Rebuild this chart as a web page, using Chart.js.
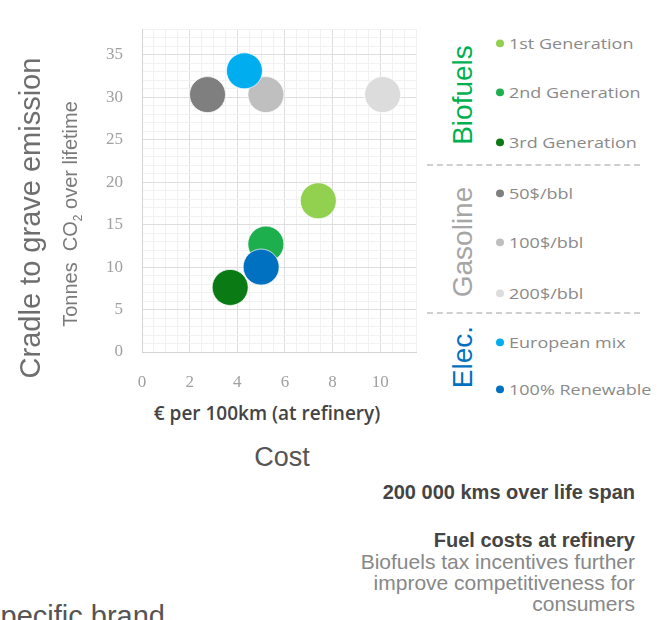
<!DOCTYPE html>
<html lang="en">
<head>
  <meta charset="UTF-8" />
  <title>Cost vs cradle to grave emission</title>
  <script src="https://cdn.jsdelivr.net/npm/chart.js"></script>
  <style>
    body {
      margin: 0;
      background: #fff;
      width: 665px;
      height: 620px;
      overflow: hidden;
      position: relative;
      font-family: "Liberation Sans", Arial, sans-serif;
    }

    #chartBox {
      position: absolute;
      left: 0;
      top: 0;
      width: 440px;
      height: 400px;
    }

    .txt {
      position: absolute;
      white-space: nowrap;
    }

    .rot {
      transform: translate(-50%, -50%) rotate(-90deg);
    }

    .center {
      transform: translate(-50%, -50%);
    }

    .legend-item {
      position: absolute;
      left: 496px;
      font-family: "Open Sans", sans-serif;
      font-size: 18px;
      color: #8a8a8a;
      white-space: nowrap;
      transform: translateY(-50%) scaleY(0.85);
    }

    .legend-item span {
      display: inline-block;
      width: 8px;
      height: 9px;
      border-radius: 50%;
      margin-right: 5px;
      vertical-align: 2px;
    }

    .sep {
      position: absolute;
      left: 427px;
      width: 213px;
      border-top: 2px dashed #cfcfcf;
    }

    .note {
      position: absolute;
      right: 30px;
      text-align: right;
      font-size: 21px;
      line-height: 21px;
      white-space: nowrap;
    }
  </style>
</head>
<body>
  <div id="chartBox"><canvas id="costChart"></canvas></div>

  <div class="txt rot" style="left:30px; top:218px; font-size:29px; color:#6e6e6e;">Cradle to grave emission</div>
  <div class="txt rot" style="left:72px; top:214px; font-size:20px; color:#7a7a7a; font-family:'Liberation Sans Narrow', 'Liberation Sans', sans-serif;">Tonnes&nbsp; CO<sub style="font-size:12px">2</sub> over lifetime</div>

  <div class="txt center" style="left:267px; top:413px; font-family:'Open Sans', sans-serif; font-weight:600; font-size:19px; color:#444;">€ per 100km (at refinery)</div>
  <div class="txt center" style="left:282px; top:457px; font-size:27px; color:#555;">Cost</div>

  <div id="legend"></div>

  <div class="note" style="top:482px; font-size:20px; font-weight:bold; color:#444;">200 000 kms over life span</div>
  <div class="note" style="top:529px;"><span style="font-size:20px; font-weight:bold; color:#444;">Fuel costs at refinery</span><br>
    <span style="color:#888;">Biofuels tax incentives further<br>improve competitiveness for<br>consumers</span></div>

  <div class="txt" style="left:-14px; top:600px; font-size:29px; color:#555;">specific brand</div>

  <script>
    // values
    const seriesNames = ['1st Generation', '2nd Generation', '3rd Generation', '50$/bbl', '100$/bbl', '200$/bbl', 'European mix', '100% Renewable'];
    const groups = ['Biofuels', 'Biofuels', 'Biofuels', 'Gasoline', 'Gasoline', 'Gasoline', 'Elec.', 'Elec.'];
    const costValues = [7.4, 5.2, 3.7, 2.75, 5.2, 10.1, 4.3, 5.0];       // € per 100km
    const emissionValues = [17.8, 12.7, 7.6, 30.3, 30.3, 30.3, 33.1, 10.0]; // tonnes CO2
    const xTickLabels = [0, 2, 4, 6, 8, 10];
    const yTickLabels = [0, 5, 10, 15, 20, 25, 30, 35];

    const colors = ['#92D050', '#1DAE4E', '#0A7A14', '#7F7F7F', '#BFBFBF', '#DCDCDC', '#00AEEF', '#0070C0'];
    const drawOrder = [2, 2, 0, 2, 2, 2, 1, 1];
    const groupColors = { 'Biofuels': '#00B050', 'Gasoline': '#A6A6A6', 'Elec.': '#0070C0' };

    const datasets = seriesNames.map((name, i) => ({
      label: name,
      data: [{ x: costValues[i], y: emissionValues[i] }],
      backgroundColor: colors[i],
      borderColor: 'rgba(255,255,255,0.7)',
      borderWidth: 1,
      radius: 18,
      order: drawOrder[i]
    }));

    new Chart(document.getElementById('costChart'), {
      type: 'bubble',
      data: { datasets },
      options: {
        responsive: true,
        maintainAspectRatio: false,
        animation: false,
        events: [],
        layout: { padding: { top: 8, right: 24, bottom: 0, left: 0 } },
        plugins: {
          legend: { display: false },
          tooltip: { enabled: false }
        },
        scales: {
          x: {
            type: 'linear',
            min: 0,
            max: 11.5,
            afterFit: s => { s.height = 48; },
            border: { color: '#d4d4d4' },
            grid: {
              drawTicks: false,
              color: ctx => xTickLabels.includes(ctx.tick.value) ? '#dedede' : '#f1f1f1'
            },
            ticks: {
              stepSize: 0.5,
              autoSkip: false,
              maxRotation: 0,
              padding: 20,
              color: '#a0a0a0',
              font: { family: 'Liberation Serif', size: 17 },
              callback: v => xTickLabels.includes(v) ? v : ''
            }
          },
          y: {
            type: 'linear',
            min: 0,
            max: 38,
            afterFit: s => { s.width = 142; },
            border: { color: '#d4d4d4' },
            grid: {
              drawTicks: false,
              color: ctx => yTickLabels.includes(ctx.tick.value) ? '#dedede' : '#f1f1f1'
            },
            ticks: {
              stepSize: 1,
              autoSkip: false,
              padding: 19,
              color: '#a0a0a0',
              font: { family: 'Liberation Serif', size: 17 },
              callback: v => yTickLabels.includes(v) ? v : ''
            }
          }
        }
      }
    });

    // side legend, grouped
    const legendY = [43, 92, 142, 193, 242, 293, 342, 389];
    const groupY = { 'Biofuels': 95, 'Gasoline': 242, 'Elec.': 357 };
    const legend = document.getElementById('legend');
    let html = '';
    Object.keys(groupY).forEach(g => {
      html += `<div class="txt rot" style="left:463px; top:${groupY[g]}px; font-size:28px; color:${groupColors[g]};">${g}</div>`;
    });
    seriesNames.forEach((name, i) => {
      html += `<div class="legend-item" style="top:${legendY[i]}px;"><span style="background:${colors[i]}"></span>${name}</div>`;
    });
    html += '<div class="sep" style="top:164px;"></div><div class="sep" style="top:312px;"></div>';
    legend.innerHTML = html;
  </script>
</body>
</html>
